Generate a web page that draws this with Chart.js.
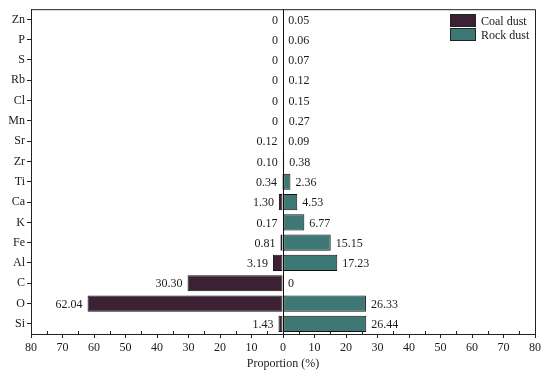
<!DOCTYPE html>
<html>
<head>
<meta charset="utf-8">
<script src="https://cdn.jsdelivr.net/npm/chart.js@4/dist/chart.umd.min.js"></script>
<style>
html,body{margin:0;padding:0;background:#fff;}
#wrap{width:550px;height:381px;position:relative;}
</style>
</head>
<body>
<div id="wrap"><canvas id="c" width="550" height="381"></canvas></div>
<script>
const categories = ['Zn','P','S','Rb','Cl','Mn','Sr','Zr','Ti','Ca','K','Fe','Al','C','O','Si'];
const coalDust = [0,0,0,0,0,0,0.12,0.10,0.34,1.30,0.17,0.81,3.19,30.30,62.04,1.43];
const coalLabels = ['0','0','0','0','0','0','0.12','0.10','0.34','1.30','0.17','0.81','3.19','30.30','62.04','1.43'];
const rockDust = [0.05,0.06,0.07,0.12,0.15,0.27,0.09,0.38,2.36,4.53,6.77,15.15,17.23,0,26.33,26.44];
const rockLabels = ['0.05','0.06','0.07','0.12','0.15','0.27','0.09','0.38','2.36','4.53','6.77','15.15','17.23','0','26.33','26.44'];
const seriesNames = ['Coal dust','Rock dust'];
const xTitle = 'Proportion (%)';

const COAL = '#3c2033';
const ROCK = '#3d7874';
const FONT = "'Liberation Serif', 'DejaVu Serif', serif";
const TXT = '#1a1a1a';

const labelPlugin = {
  id: 'valueLabels',
  afterDatasetsDraw(chart) {
    const ctx = chart.ctx;
    ctx.save();
    ctx.font = '12px ' + FONT;
    ctx.fillStyle = TXT;
    ctx.textBaseline = 'middle';
    const m0 = chart.getDatasetMeta(0), m1 = chart.getDatasetMeta(1);
    m0.data.forEach((el, i) => {
      ctx.textAlign = 'right';
      ctx.fillText(coalLabels[i], el.x - 5, el.y + 1);
    });
    m1.data.forEach((el, i) => {
      ctx.textAlign = 'left';
      ctx.fillText(rockLabels[i], el.x + 5, el.y + 1);
    });
    ctx.restore();
  }
};

const framePlugin = {
  id: 'frame',
  afterDraw(chart) {
    const ctx = chart.ctx, a = chart.chartArea, xs = chart.scales.x;
    ctx.save();
    ctx.strokeStyle = '#222';
    ctx.lineWidth = 1;
    ctx.beginPath();
    ctx.moveTo(a.left, a.top + 0.5);
    ctx.lineTo(a.right + 0.5, a.top + 0.5);
    ctx.lineTo(a.right + 0.5, a.bottom);
    ctx.stroke();
    // minor ticks (inward)
    ctx.beginPath();
    for (let v = -75; v <= 75; v += 10) {
      const px = Math.round(xs.getPixelForValue(v)) + 0.5;
      ctx.moveTo(px, a.bottom);
      ctx.lineTo(px, a.bottom - 3);
    }
    ctx.stroke();
    // legend
    const lx = 450, ly = 14, bw = 26, bh = 13;
    const cols = [COAL, ROCK];
    ctx.font = '12px ' + FONT;
    ctx.textBaseline = 'middle';
    ctx.textAlign = 'left';
    seriesNames.forEach((n, i) => {
      const y = ly + i * 14;
      ctx.fillStyle = cols[i];
      ctx.fillRect(lx, y, bw, bh);
      ctx.strokeStyle = '#222';
      ctx.strokeRect(lx + 0.5, y + 0.5, bw - 1, bh - 1);
      ctx.fillStyle = TXT;
      ctx.fillText(n, lx + bw + 5, y + bh / 2 + 1);
    });
    ctx.restore();
  }
};

new Chart(document.getElementById('c'), {
  type: 'bar',
  data: {
    labels: categories,
    datasets: [
      { label: seriesNames[0], data: coalDust.map(v => -v), backgroundColor: COAL, borderColor: '#111', borderWidth: 1, borderSkipped: false, grouped: false, categoryPercentage: 0.8, barPercentage: 1 },
      { label: seriesNames[1], data: rockDust, backgroundColor: ROCK, borderColor: '#111', borderWidth: 1, borderSkipped: false, grouped: false, categoryPercentage: 0.8, barPercentage: 1 }
    ]
  },
  options: {
    indexAxis: 'y',
    responsive: false,
    animation: false,
    devicePixelRatio: 1,
    layout: { padding: { left: 0, right: 15, top: 9, bottom: 10 } },
    plugins: { legend: { display: false }, tooltip: { enabled: false } },
    scales: {
      x: {
        min: -80, max: 80,
        ticks: {
          stepSize: 10,
          color: TXT,
          font: { family: FONT, size: 12 },
          padding: 3,
          maxRotation: 0,
          callback: v => String(Math.abs(v))
        },
        grid: {
          drawOnChartArea: true,
          color: c => (c.tick && c.tick.value === 0) ? '#111' : 'rgba(0,0,0,0)',
          tickColor: '#222',
          tickLength: 4
        },
        border: { display: true, color: '#222', width: 1 },
        title: { display: true, text: xTitle, color: TXT, font: { family: FONT, size: 12 }, padding: { top: 2, bottom: 0 } },
        afterFit: s => { s.height = 37; }
      },
      y: {
        ticks: { color: TXT, font: { family: FONT, size: 12 }, padding: 2, autoSkip: false },
        grid: { drawOnChartArea: false, offset: false, tickColor: '#222', tickLength: 4 },
        border: { display: true, color: '#222', width: 1 },
        afterFit: s => { s.width = 31; }
      }
    }
  },
  plugins: [labelPlugin, framePlugin]
});
</script>
</body>
</html>
